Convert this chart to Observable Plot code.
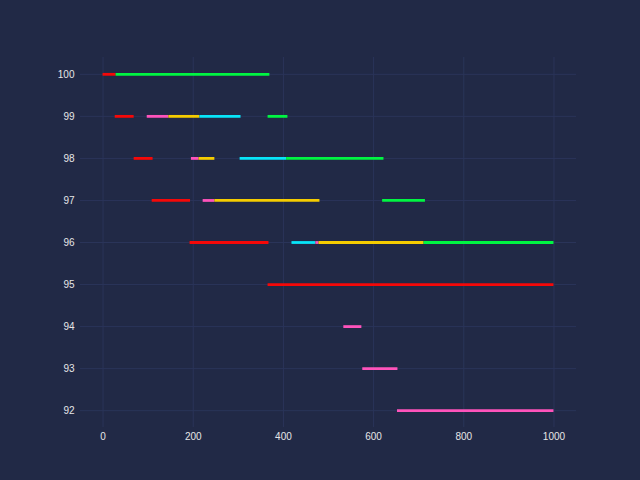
<!DOCTYPE html>
<html>
<head>
<meta charset="utf-8">
<script src="https://cdn.jsdelivr.net/npm/d3@7"></script>
<script src="https://cdn.jsdelivr.net/npm/@observablehq/plot@0.6"></script>
<style>
  html, body { margin: 0; padding: 0; background: #212946; }
  #chart { width: 640px; height: 480px; }
</style>
</head>
<body>
<div id="chart"></div>
<script>
// Segment data: row level, start, end, state
const segRow   = [100, 100,  99, 99, 99, 99, 99,  98, 98, 98, 98, 98,  97, 97, 97, 97,  96, 96, 96, 96, 96,  95,  94,  93,  92];
const segStart = [0,   29,   27, 98, 146, 215, 366,  69, 196, 213, 304, 407,  109, 222, 248, 620,  193, 419, 472, 479, 712,  366,  534, 576, 653];
const segEnd   = [29,  370,  69, 146, 215, 306, 410,  111, 213, 248, 407, 623,  194, 248, 481, 715,  368, 472, 479, 712, 1000,  1000, 574, 654, 1000];
const segState = ["S1","S2", "S1","S3","S4","S5","S2", "S1","S3","S4","S5","S2", "S1","S3","S4","S2", "S1","S5","S3","S4","S2", "S1", "S3","S3","S3"];

const xTicks = [0, 200, 400, 600, 800, 1000];
const yTicks = [92, 93, 94, 95, 96, 97, 98, 99, 100];
const states = ["S1", "S2", "S3", "S4", "S5"];
const stateColors = ["#f50808", "#00f542", "#fe53bb", "#f5cc00", "#08e4f8"];

const data = segRow.map((r, i) => ({row: r, x1: segStart[i], x2: segEnd[i], state: segState[i]}));

const chart = Plot.plot({
  width: 640,
  height: 480,
  marginLeft: 80,
  marginRight: 64,
  marginTop: 57,
  marginBottom: 53,
  style: {background: "#212946", color: "#e6e6e6", fontFamily: "Liberation Sans, Arial, sans-serif", fontSize: "10px"},
  x: {domain: [-50, 1050]},
  y: {domain: [91.6, 100.4]},
  color: {type: "ordinal", domain: states, range: stateColors},
  marks: [
    Plot.gridX(xTicks, {stroke: "#2A3459", strokeOpacity: 1}),
    Plot.gridY(yTicks, {stroke: "#2A3459", strokeOpacity: 1}),
    Plot.ruleY(data, {y: "row", x1: "x1", x2: "x2", stroke: "state", strokeWidth: 2.8}),
    Plot.axisX(xTicks, {tickSize: 0, tickPadding: 5, label: null, fill: "#e6e6e6", tickFormat: d => String(d)}),
    Plot.axisY(yTicks, {tickSize: 0, tickPadding: 6, label: null, fill: "#e6e6e6", tickFormat: d => String(d)})
  ]
});
document.getElementById("chart").appendChild(chart);
</script>
</body>
</html>
